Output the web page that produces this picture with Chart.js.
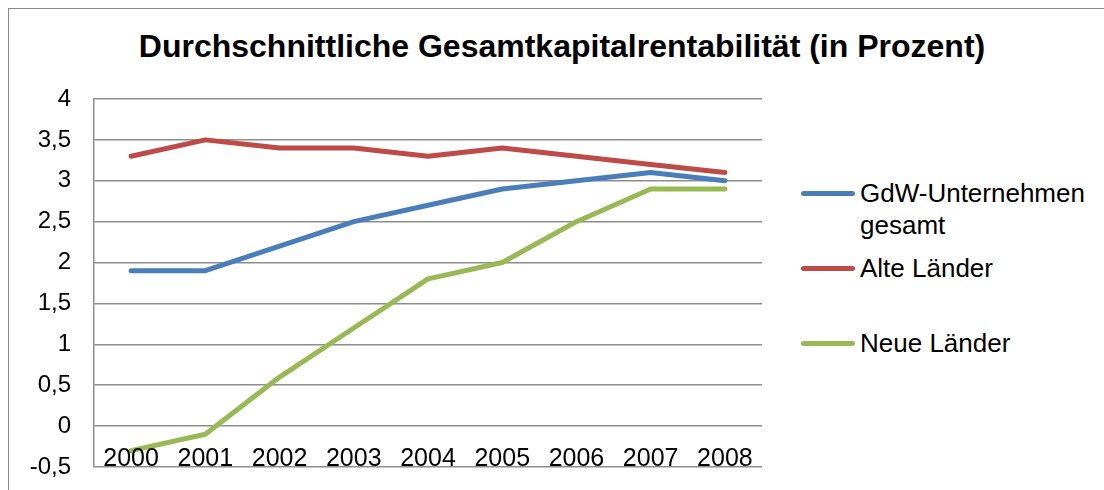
<!DOCTYPE html>
<html>
<head>
<meta charset="utf-8">
<script src="https://cdn.jsdelivr.net/npm/chart.js@4.4.0/dist/chart.umd.min.js"></script>
<style>
  html, body { margin: 0; padding: 0; background: #fff; overflow: hidden; }
  #wrap { position: relative; width: 1104px; height: 490px; font-family: "Liberation Sans", Arial, sans-serif; }
  #frame { position: absolute; left: 8px; top: 8px; width: 1300px; height: 700px; border: 1.5px solid #8a8a8a; box-sizing: border-box; }
  #title { position: absolute; left: 0; width: 1124px; top: 28px; text-align: center; font-weight: bold; font-size: 32px; color: #000; white-space: nowrap; }
  #legend { position: absolute; left: 801px; top: 177px; font-size: 26px; color: #000; }
  .item { position: absolute; left: 0; white-space: nowrap; line-height: 32px; }
  .swatch { position: absolute; left: 0; top: 14px; width: 54px; height: 5px; border-radius: 3px; }
  .txt { position: absolute; left: 59px; top: 0; }
  canvas { position: absolute; left: 0; top: 0; }
</style>
</head>
<body>
<div id="wrap">
  <div id="frame"></div>
  <div id="title">Durchschnittliche Gesamtkapitalrentabilität (in Prozent)</div>
  <div id="legend"></div>
  <canvas id="c" width="1104" height="490"></canvas>
</div>
<script>
// Werte
const years = ['2000', '2001', '2002', '2003', '2004', '2005', '2006', '2007', '2008'];
const gdwGesamt = [1.9, 1.9, 2.2, 2.5, 2.7, 2.9, 3.0, 3.1, 3.0];
const alteLaender = [3.3, 3.5, 3.4, 3.4, 3.3, 3.4, 3.3, 3.2, 3.1];
const neueLaender = [-0.3, -0.1, 0.6, 1.2, 1.8, 2.0, 2.5, 2.9, 2.9];
const seriesNames = ['GdW-Unternehmen\ngesamt', 'Alte Länder', 'Neue Länder'];
const seriesColors = ['#4a7ebb', '#be4b48', '#98b954'];

const gridGray = '#8e8e8e';
const font = '"Liberation Sans", Arial, sans-serif';

// x-Beschriftung sitzt bei Excel oberhalb der -0,5-Linie, deshalb selbst zeichnen
const xLabels = {
    id: 'xLabels',
    afterDraw(chart) {
        const { ctx, scales } = chart;
        const yBase = scales.y.getPixelForValue(-0.5) - 1;
        ctx.save();
        ctx.font = '25px ' + font;
        ctx.fillStyle = '#000';
        ctx.textAlign = 'center';
        ctx.textBaseline = 'alphabetic';
        years.forEach((y, i) => {
            ctx.fillText(y, scales.x.getPixelForValue(i), yBase);
        });
        ctx.restore();
    }
};

const datasets = [gdwGesamt, alteLaender, neueLaender].map((d, i) => ({
    label: seriesNames[i],
    data: d,
    borderColor: seriesColors[i],
    backgroundColor: seriesColors[i],
    borderWidth: 5,
    pointRadius: 0,
    tension: 0,
    borderJoinStyle: 'round',
    borderCapStyle: 'round',
}));

new Chart(document.getElementById('c'), {
    type: 'line',
    data: { labels: years, datasets },
    options: {
        responsive: false,
        animation: false,
        layout: { padding: { top: 99, bottom: 23, left: 0, right: 342 } },
        plugins: { legend: { display: false }, title: { display: false }, tooltip: { enabled: false } },
        scales: {
            x: {
                offset: true,
                afterFit: (s) => { s.height = 0; },
                grid: { display: false },
                border: { display: false },
                ticks: { display: false },
            },
            y: {
                min: -0.5,
                max: 4,
                // feste Breite, und der Label-Überhang soll die Fläche nicht verkleinern
                afterFit: (s) => { s.width = 94; s.paddingTop = 0; s.paddingBottom = 0; },
                grid: { color: gridGray, lineWidth: 1.5, drawTicks: false },
                border: { display: true, color: gridGray, width: 1.5 },
                ticks: {
                    stepSize: 0.5,
                    padding: 23,
                    color: '#000',
                    font: { family: font, size: 24 },
                    callback: (v) => String(v).replace('.', ','),
                },
            },
        },
    },
    plugins: [xLabels],
});

// Legende als HTML, aus denselben Arrays
const legend = document.getElementById('legend');
const legendTops = [0, 75, 150];
seriesNames.forEach((name, i) => {
    const item = document.createElement('div');
    item.className = 'item';
    item.style.top = legendTops[i] + 'px';
    item.innerHTML = '<span class="swatch" style="background:' + seriesColors[i] + '"></span>' +
        '<span class="txt">' + name.replace('\n', '<br>') + '</span>';
    legend.appendChild(item);
});
</script>
</body>
</html>
